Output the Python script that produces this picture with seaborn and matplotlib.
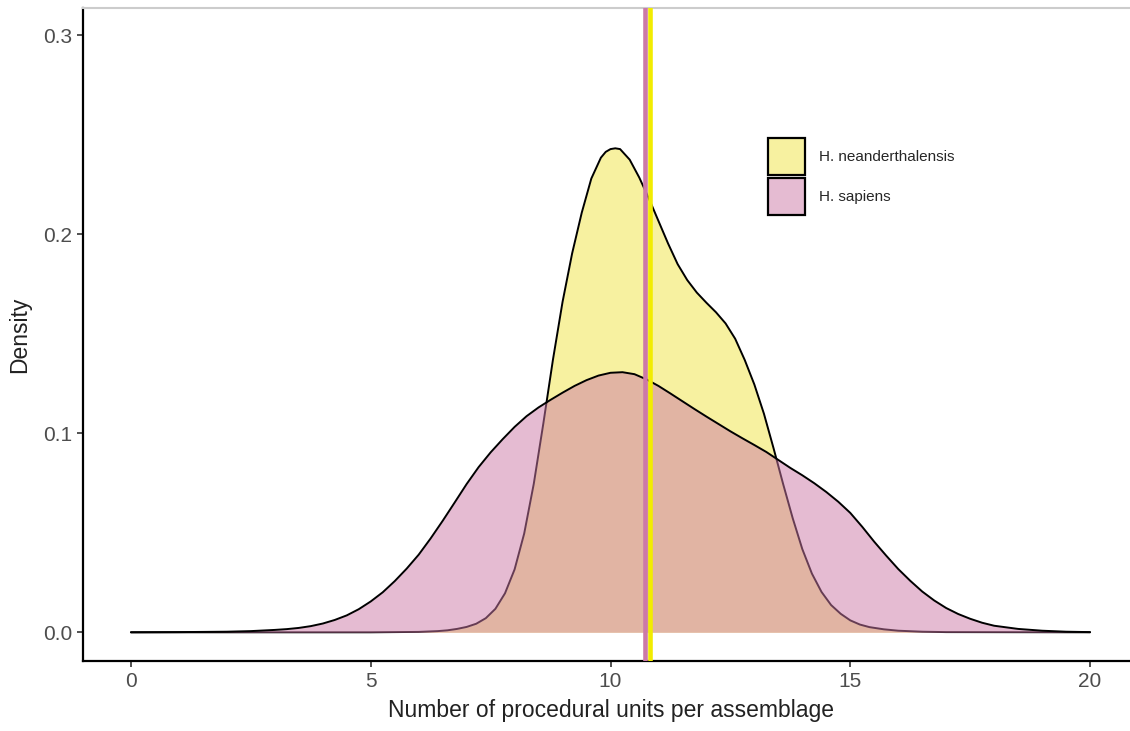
import pandas as pd
import matplotlib
matplotlib.use("Agg")
import matplotlib.pyplot as plt
from matplotlib.colors import to_rgba
from matplotlib.patches import Patch
import seaborn as sns

# Estimated density of procedural units per assemblage (H. neanderthalensis)
nean_x = [0, 5.0, 5.5, 6.0, 6.4, 6.6, 6.8, 7.0, 7.2, 7.4, 7.6, 7.8, 8.0, 8.2, 8.4, 8.6,
          8.8, 9.0, 9.2, 9.4, 9.6, 9.8, 9.9, 10.0, 10.1, 10.2, 10.4, 10.6, 10.8, 11.0,
          11.2, 11.4, 11.6, 11.8, 12.0, 12.2, 12.4, 12.6, 12.8, 13.0, 13.2, 13.4, 13.6,
          13.8, 14.0, 14.2, 14.4, 14.6, 14.8, 15.0, 15.2, 15.4, 15.7, 16.0, 16.5, 17.0, 20.0]
nean_y = [0, 0, 0.0001, 0.0002, 0.0006, 0.0010, 0.0017, 0.0027, 0.0043, 0.0071, 0.0118,
          0.0196, 0.0316, 0.0496, 0.0746, 0.1050, 0.1370, 0.1660, 0.1904, 0.2108, 0.2280,
          0.2385, 0.2414, 0.2428, 0.2432, 0.2428, 0.2375, 0.2285, 0.2180, 0.2067, 0.1954,
          0.1850, 0.1770, 0.1707, 0.1656, 0.1608, 0.1552, 0.1475, 0.1368, 0.1245, 0.1098,
          0.0925, 0.0745, 0.0573, 0.0418, 0.0295, 0.0203, 0.0137, 0.0093, 0.0060, 0.0039,
          0.0026, 0.0015, 0.0008, 0.0003, 0.0001, 0]

# Estimated density of procedural units per assemblage (H. sapiens)
sap_x = [0, 1.0, 2.0, 2.5, 3.0, 3.25, 3.5, 3.75, 4.0, 4.25, 4.5, 4.75, 5.0, 5.25, 5.5,
         5.75, 6.0, 6.25, 6.5, 6.75, 7.0, 7.25, 7.5, 7.75, 8.0, 8.25, 8.5, 8.75, 9.0,
         9.25, 9.5, 9.75, 10.0, 10.25, 10.5, 10.75, 11.0, 11.25, 11.5, 11.75, 12.0,
         12.25, 12.5, 12.75, 13.0, 13.25, 13.5, 13.75, 14.0, 14.25, 14.5, 14.75, 15.0,
         15.25, 15.5, 15.75, 16.0, 16.25, 16.5, 16.75, 17.0, 17.25, 17.5, 17.75, 18.0,
         18.5, 19.0, 19.5, 20.0]
sap_y = [0, 0.0001, 0.0003, 0.0006, 0.0012, 0.0016, 0.0022, 0.0031, 0.0044, 0.0062,
         0.0085, 0.0116, 0.0155, 0.0201, 0.0257, 0.0320, 0.0390, 0.0472, 0.0560, 0.0652,
         0.0745, 0.0830, 0.0904, 0.0970, 0.1032, 0.1086, 0.1130, 0.1168, 0.1204, 0.1238,
         0.1267, 0.1290, 0.1304, 0.1307, 0.1297, 0.1271, 0.1238, 0.1200, 0.1161, 0.1122,
         0.1084, 0.1047, 0.1010, 0.0975, 0.0941, 0.0906, 0.0866, 0.0826, 0.0789, 0.0749,
         0.0705, 0.0656, 0.0600, 0.0530, 0.0455, 0.0385, 0.0318, 0.0259, 0.0205, 0.0160,
         0.0122, 0.0092, 0.0068, 0.0048, 0.0033, 0.0017, 0.0008, 0.0003, 0.0001]

species = ["H. neanderthalensis", "H. sapiens"]
means = [10.83, 10.72]
fill_colors = ["#F0E442", "#CC79A7"]
mean_colors = ["#F2EC00", "#CC79A7"]

x_ticks = [0, 5, 10, 15, 20]
y_ticks = [0.0, 0.1, 0.2, 0.3]
y_tick_labels = ["0.0", "0.1", "0.2", "0.3"]

sns.set_theme(style="ticks")
plt.rcParams["font.family"] = ["Liberation Sans", "DejaVu Sans"]

fig = plt.figure(figsize=(11.3, 7.31), dpi=100)
W, H = 1130, 731
ax = fig.add_axes([83 / W, (H - 661) / H, (1138 - 83) / W, (661 - 8) / H])

# Each group is drawn as fill then outline, the later group layered over the earlier one
curves = [(nean_x, nean_y), (sap_x, sap_y)]
for i, ((cx, cy), col) in enumerate(zip(curves, fill_colors)):
    df = pd.DataFrame({"x": cx, "density": cy})
    base_z = 2 + 2 * i
    ax.fill_between(df["x"], 0, df["density"], color=col, alpha=0.5, linewidth=0, zorder=base_z)
    sns.lineplot(data=df, x="x", y="density", color="black", linewidth=1.4,
                 estimator=None, sort=True, ax=ax, zorder=base_z + 1)

for m, col in zip(means, mean_colors):
    ax.axvline(m, color=col, linewidth=3.3, zorder=8)

ax.set_xlim(-1, 21)
ax.set_ylim(-0.01442, 0.3137)
ax.set_xticks(x_ticks)
ax.set_yticks(y_ticks)
ax.set_yticklabels(y_tick_labels)
ax.set_xlabel("Number of procedural units per assemblage", fontsize=16.5, color="#222222", labelpad=6)
ax.set_ylabel("Density", fontsize=16.5, color="#222222", labelpad=8)
ax.tick_params(axis="both", labelsize=15, labelcolor="#4D4D4D", color="#333333",
               length=4, width=1.2, pad=4)

for side in ["left", "bottom"]:
    ax.spines[side].set_color("black")
    ax.spines[side].set_linewidth(1.6)
ax.spines["top"].set_color("#CCCCCC")
ax.spines["top"].set_linewidth(1.5)
ax.spines["right"].set_visible(False)

handles = [Patch(facecolor=to_rgba(c, 0.5), edgecolor="black", linewidth=1.6) for c in fill_colors]
fig.legend(handles, species, loc="upper left", bbox_to_anchor=(768 / W, 1 - 138 / H),
           frameon=False, fontsize=11, handlelength=2.42, handleheight=3.35,
           labelspacing=0.2, handletextpad=0.9, borderpad=0, borderaxespad=0)

fig.savefig("out.png", dpi=100)
